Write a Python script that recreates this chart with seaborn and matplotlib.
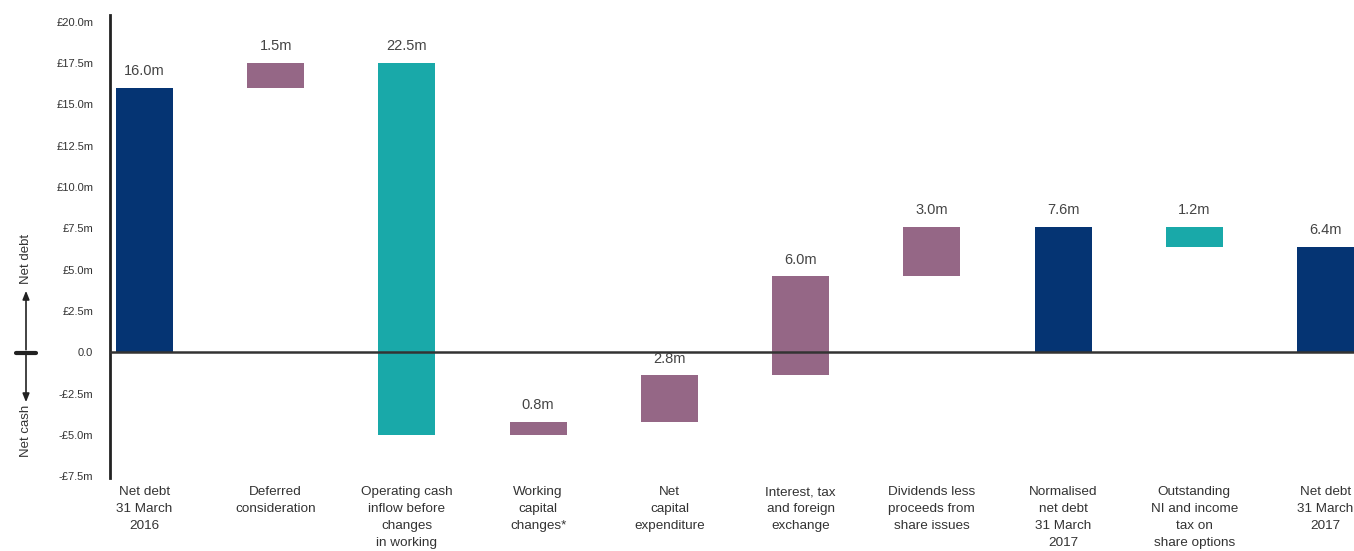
import matplotlib
matplotlib.use("Agg")
import matplotlib.pyplot as plt
import seaborn as sns
import pandas as pd

# data
categories = [
    "Net debt\n31 March\n2016",
    "Deferred\nconsideration",
    "Operating cash\ninflow before\nchanges\nin working",
    "Working\ncapital\nchanges*",
    "Net\ncapital\nexpenditure",
    "Interest, tax\nand foreign\nexchange",
    "Dividends less\nproceeds from\nshare issues",
    "Normalised\nnet debt\n31 March\n2017",
    "Outstanding\nNI and income\ntax on\nshare options",
    "Net debt\n31 March\n2017",
]
changes = [16.0, 1.5, -22.5, 0.8, 2.8, 6.0, 3.0, 7.6, -1.2, 6.4]
is_total = [True, False, False, False, False, False, False, True, False, True]
kinds = ["total", "debt", "cash", "debt", "debt", "debt", "debt", "total", "cash", "total"]
value_labels = ["16.0m", "1.5m", "22.5m", "0.8m", "2.8m", "6.0m", "3.0m", "7.6m", "1.2m", "6.4m"]

kind_colors = {"total": "#053473", "debt": "#956786", "cash": "#19a9a9"}

# waterfall bottoms / heights
bottoms, heights = [], []
running = 0.0
for chg, tot in zip(changes, is_total):
    if tot:
        bottoms.append(0.0)
        heights.append(chg)
        running = chg
    else:
        bottoms.append(running)
        heights.append(chg)
        running += chg

df = pd.DataFrame({"step": categories, "height": heights})

sns.set_style("white")
plt.rcParams["font.family"] = ["Liberation Sans", "DejaVu Sans"]

fig = plt.figure(figsize=(13.54, 5.51), dpi=100)
ax = fig.add_axes([110 / 1354, 73 / 551, 1 - 110 / 1354, 463 / 551])

sns.barplot(data=df, x="step", y="height", color=kind_colors["total"],
            errorbar=None, width=0.434, bottom=bottoms, ax=ax,
            facecolor=[kind_colors[k] for k in kinds], linewidth=0)

# value labels above each bar
for i, (b, h, lab) in enumerate(zip(bottoms, heights, value_labels)):
    top = max(b, b + h)
    ax.annotate(lab, (i, top), xytext=(0, 7), textcoords="offset points",
                ha="center", va="bottom", fontsize=10.5, color="#444444")

ax.axhline(0, color="#333333", lw=1.8, zorder=5)

ax.set_ylim(-7.6, 20.4)
ax.set_xlim(-0.263, 9.217)
ax.set_yticks([20, 17.5, 15, 12.5, 10, 7.5, 5, 2.5, 0, -2.5, -5, -7.5])


def fmt(v, pos=None):
    if v == 0:
        return "0.0"
    if v < 0:
        return "-£%.1fm" % abs(v)
    return "£%.1fm" % v


ax.yaxis.set_major_formatter(plt.FuncFormatter(fmt))
ax.tick_params(axis="y", length=0, pad=12, labelsize=8, labelcolor="#333333")
ax.tick_params(axis="x", length=0, pad=6, labelsize=9.7, labelcolor="#333333")
ax.set_xticks(range(len(categories)))
ax.set_xticklabels(categories, linespacing=1.55, fontsize=9.7, color="#333333")
ax.set_xlabel("")
ax.set_ylabel("")

for s in ["top", "right", "bottom"]:
    ax.spines[s].set_visible(False)
ax.spines["left"].set_color("#222222")
ax.spines["left"].set_linewidth(2)

# net debt / net cash indicator on the left
ax_x = 26 / 1354
zero_y = 1 - 352.5 / 551
fig.text(ax_x, 1 - 259 / 551, "Net debt", rotation=90, ha="center", va="center",
         fontsize=9.5, color="#333333")
fig.text(ax_x, 1 - 431 / 551, "Net cash", rotation=90, ha="center", va="center",
         fontsize=9.5, color="#333333")
arrow_kw = dict(arrowstyle="-|>,head_length=0.5,head_width=0.2", color="#222222", lw=1.2)
ax.annotate("", xy=(ax_x, 1 - 288 / 551), xytext=(ax_x, zero_y),
            xycoords="figure fraction", textcoords="figure fraction",
            arrowprops=arrow_kw, annotation_clip=False)
ax.annotate("", xy=(ax_x, 1 - 405 / 551), xytext=(ax_x, zero_y),
            xycoords="figure fraction", textcoords="figure fraction",
            arrowprops=arrow_kw, annotation_clip=False)
fig.add_artist(plt.Line2D([16 / 1354, 36 / 1354], [zero_y, zero_y],
                          transform=fig.transFigure, color="#222222", lw=3))

fig.savefig("out.png", dpi=100)
